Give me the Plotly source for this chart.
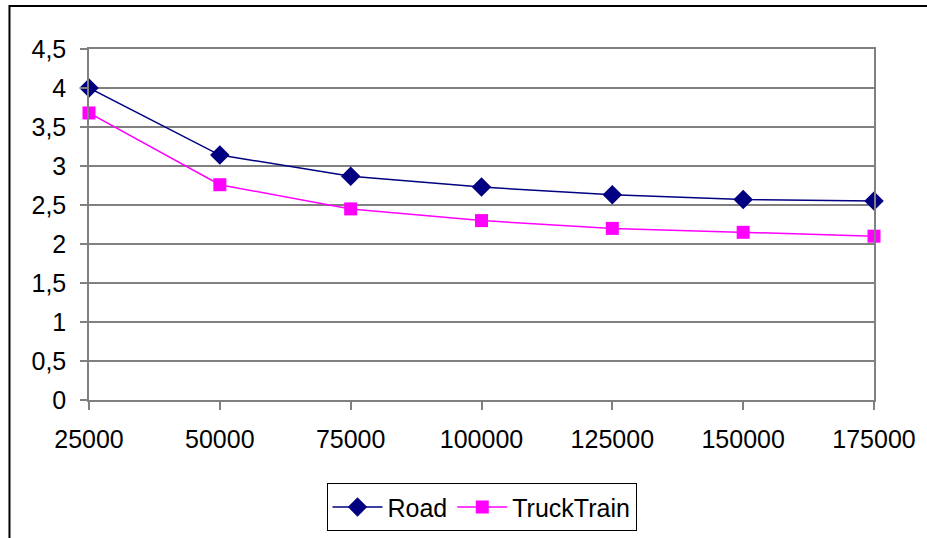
import plotly.graph_objects as go

# Distance values and cost per series
distances = [25000, 50000, 75000, 100000, 125000, 150000, 175000]
road = [4.00, 3.14, 2.87, 2.73, 2.63, 2.57, 2.55]
truck_train = [3.68, 2.76, 2.45, 2.30, 2.20, 2.15, 2.10]
y_ticks = [0, 0.5, 1, 1.5, 2, 2.5, 3, 3.5, 4, 4.5]

fig = go.Figure()
fig.add_trace(go.Scatter(
    x=distances, y=road, name="Road", mode="lines+markers",
    line=dict(color="#000080", width=1.5),
    marker=dict(symbol="diamond", size=15, color="#000080"),
    cliponaxis=False,
))
fig.add_trace(go.Scatter(
    x=distances, y=truck_train, name="TruckTrain", mode="lines+markers",
    line=dict(color="#FF00FF", width=1.5),
    marker=dict(symbol="square", size=13, color="#FF00FF"),
    cliponaxis=False,
))

font = dict(family="Liberation Sans, Arial, sans-serif", size=25, color="#000000")

fig.update_layout(
    width=927, height=538,
    margin=dict(l=89, r=53, t=49, b=138, autoexpand=False),
    paper_bgcolor="white", plot_bgcolor="white",
    separators=", ",
    font=font,
    showlegend=True,
    legend=dict(
        orientation="h", x=0.5, xanchor="center", y=-0.237, yanchor="top",
        bordercolor="#000000", borderwidth=1, font=font,
        itemwidth=50,
    ),
    xaxis=dict(
        range=[25000, 175000], tickvals=distances, tickformat="d",
        showgrid=False, zeroline=False, automargin=False,
        showline=True, linecolor="#808080", linewidth=1.5, mirror=True,
        ticks="outside", ticklen=8, tickcolor="#808080", tickwidth=1.5,
        ticklabelstandoff=8,
    ),
    yaxis=dict(
        range=[0, 4.5], tickvals=y_ticks, automargin=False,
        showgrid=True, gridcolor="#808080", gridwidth=1.5, zeroline=False,
        showline=True, linecolor="#808080", linewidth=1.5, mirror=True,
        ticks="outside", ticklen=7, tickcolor="#808080", tickwidth=1.5,
        ticklabelstandoff=9,
    ),
)

# Outer chart border (open on the right and bottom edges)
fig.add_shape(
    type="rect", xref="paper", yref="paper",
    x0=-0.1013, x1=1.08, y0=-0.42, y1=1.1225,
    line=dict(color="#000000", width=2), layer="below",
)

fig.write_html("out.html")
